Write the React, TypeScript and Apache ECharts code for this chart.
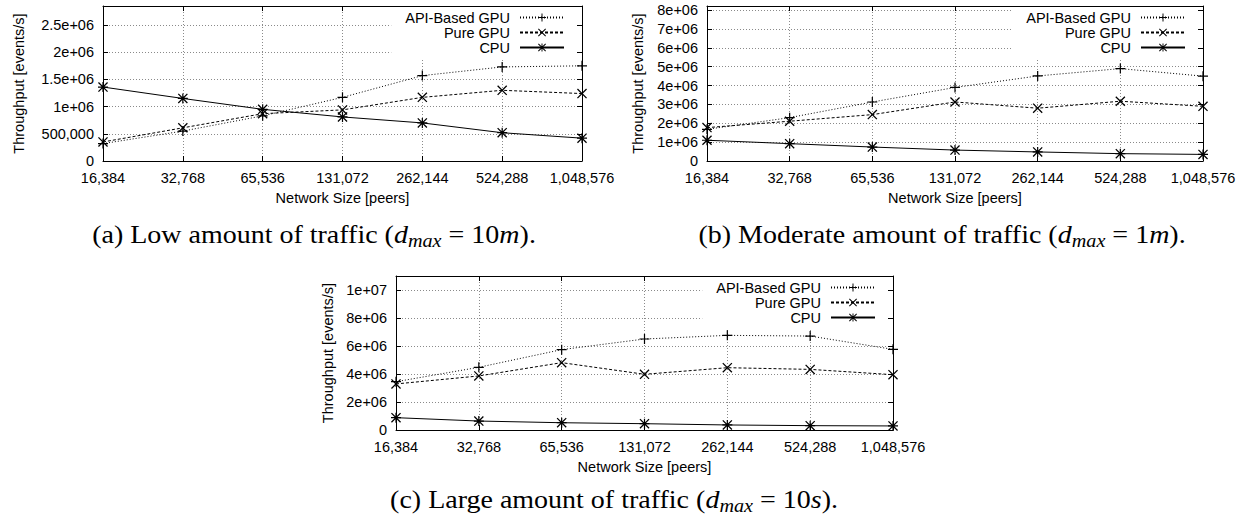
import React, { useEffect, useRef } from 'react';
import * as echarts from 'echarts';

// ---------- data ----------
const networkSizes = ['16,384', '32,768', '65,536', '131,072', '262,144', '524,288', '1,048,576'];
const seriesNames = ['API-Based GPU', 'Pure GPU', 'CPU'];

// (a) low traffic
const lowApi = [320000, 550000, 830000, 1170000, 1570000, 1730000, 1750000];
const lowPure = [350000, 610000, 870000, 940000, 1170000, 1300000, 1240000];
const lowCpu = [1360000, 1150000, 950000, 810000, 700000, 520000, 420000];

// (b) moderate traffic
const modApi = [1680000, 2300000, 3130000, 3900000, 4510000, 4900000, 4500000];
const modPure = [1770000, 2110000, 2460000, 3130000, 2800000, 3170000, 2900000];
const modCpu = [1100000, 920000, 740000, 580000, 480000, 390000, 350000];

// (c) large traffic
const largeApi = [3450000, 4480000, 5740000, 6500000, 6760000, 6710000, 5760000];
const largePure = [3290000, 3860000, 4810000, 3980000, 4450000, 4330000, 3950000];
const largeCpu = [880000, 640000, 520000, 450000, 360000, 310000, 290000];

const yTicksLow = ['0', '500,000', '1e+06', '1.5e+06', '2e+06', '2.5e+06'];
const yTicksMod = ['0', '1e+06', '2e+06', '3e+06', '4e+06', '5e+06', '6e+06', '7e+06', '8e+06'];
const yTicksLarge = ['0', '2e+06', '4e+06', '6e+06', '8e+06', '1e+07'];

const xName = 'Network Size [peers]';
const yName = 'Throughput [events/s]';

// ---------- layout / style ----------
const SANS = 'Liberation Sans';
const SERIF = 'Liberation Serif';
const FS = 14.5;

const PLUS = 'path://M4.4,0h1.2v10h-1.2zM0,4.4h10v1.2h-10z';
const CROSS = 'path://M0,0.9L0.9,0L10,9.1L9.1,10ZM9.1,0L10,0.9L0.9,10L0,9.1Z';
const STAR = 'path://M4.4,0h1.2v10h-1.2zM0,4.4h10v1.2h-10zM0,0.9L0.9,0L10,9.1L9.1,10ZM9.1,0L10,0.9L0.9,10L0,9.1Z';

const panels = [
  {
    grid: { left: 103, top: 6, width: 479, height: 155 },
    max: 2850000, interval: 500000, ticks: yTicksLow,
    data: [lowApi, lowPure, lowCpu], yNameGap: 77,
    legend: { right: 666, top: 7 },
  },
  {
    grid: { left: 707, top: 6, width: 496, height: 155 },
    max: 8220000, interval: 1000000, ticks: yTicksMod,
    data: [modApi, modPure, modCpu], yNameGap: 62,
    legend: { right: 45, top: 7 },
  },
  {
    grid: { left: 396, top: 276, width: 497, height: 154 },
    max: 11000000, interval: 2000000, ticks: yTicksLarge,
    data: [largeApi, largePure, largeCpu], yNameGap: 61,
    legend: { right: 355, top: 277 },
  },
];

const styles = [
  { symbol: PLUS, dash: [1, 2] },
  { symbol: CROSS, dash: [3, 2] },
  { symbol: STAR, dash: 'solid' as any },
];

const captions = [
  { x: 314, y: 235, label: '(a) Low amount of traffic (', val: ' = 10', unit: 'm' },
  { x: 942, y: 235, label: '(b) Moderate amount of traffic (', val: ' = 1', unit: 'm' },
  { x: 614, y: 500, label: '(c) Large amount of traffic (', val: ' = 10', unit: 's' },
];

function buildOption() {
  const grid: any[] = [];
  const xAxis: any[] = [];
  const yAxis: any[] = [];
  const series: any[] = [];
  const legend: any[] = [];
  const gridLine = { show: true, lineStyle: { color: '#8a8a8a', width: 1, type: [1, 2] } };
  const axisLine = { show: true, onZero: false, lineStyle: { color: '#000', width: 1 } };
  const tick = { show: true, inside: true, length: 5, lineStyle: { color: '#000' } };

  panels.forEach((p, pi) => {
    grid.push({ ...p.grid, show: false });
    xAxis.push({
      type: 'category', gridIndex: pi, data: networkSizes, boundaryGap: false,
      axisLine, axisTick: { ...tick, interval: 0 }, splitLine: { ...gridLine, interval: 0 },
      axisLabel: { color: '#000', fontFamily: SANS, fontSize: FS, margin: 9, interval: 0, hideOverlap: false },
      name: xName, nameLocation: 'middle', nameGap: 29,
      nameTextStyle: { color: '#000', fontFamily: SANS, fontSize: FS },
    });
    xAxis.push({
      type: 'category', gridIndex: pi, data: networkSizes, boundaryGap: false, position: 'top',
      axisLine, axisTick: { ...tick, interval: 0 }, splitLine: { show: false }, axisLabel: { show: false },
    });
    const fmt = (v: number) => {
      const k = Math.round(v / p.interval);
      if (Math.abs(v - k * p.interval) > 1 || k >= p.ticks.length) return '';
      return p.ticks[k];
    };
    yAxis.push({
      type: 'value', gridIndex: pi, min: 0, max: p.max, interval: p.interval,
      axisLine, axisTick: tick, splitLine: gridLine,
      axisLabel: { color: '#000', fontFamily: SANS, fontSize: FS, margin: 9, formatter: fmt, showMaxLabel: false },
      name: yName, nameLocation: 'middle', nameGap: p.yNameGap,
      nameTextStyle: { color: '#000', fontFamily: SANS, fontSize: FS },
    });
    yAxis.push({
      type: 'value', gridIndex: pi, min: 0, max: p.max, interval: p.interval, position: 'right',
      axisLine, axisTick: tick, splitLine: { show: false }, axisLabel: { show: false },
    });
    p.data.forEach((d, si) => {
      series.push({
        type: 'line', name: seriesNames[si], xAxisIndex: pi * 2, yAxisIndex: pi * 2, data: d,
        symbol: styles[si].symbol, symbolSize: 10, showSymbol: true,
        itemStyle: { color: '#000' },
        lineStyle: { color: '#000', width: 1, type: styles[si].dash },
        emphasis: { disabled: true }, silent: true, z: 3,
      });
    });
    legend.push({
      ...p.legend, orient: 'vertical', align: 'right', data: seriesNames,
      itemWidth: 44, itemHeight: 10, itemGap: 0, padding: [3, 12, 5, 14],
      backgroundColor: '#fff', selectedMode: false,
      textStyle: { color: '#000', fontFamily: SANS, fontSize: FS, padding: [0, 5, 0, 0] },
    });
  });

  const graphic = captions.map((c) => ({
    type: 'text', x: c.x, y: c.y, scaleX: 1.12,
    style: {
      text: `{n|${c.label}}{i|d}{s|max}{n|${c.val}}{i|${c.unit}}{n|).}`,
      align: 'center', verticalAlign: 'middle', fill: '#000',
      fontFamily: SERIF, fontSize: 25,
      rich: {
        n: { fontFamily: SERIF, fontSize: 25, lineHeight: 30, color: '#000' },
        i: { fontFamily: SERIF, fontSize: 25, lineHeight: 30, fontStyle: 'italic', color: '#000' },
        s: { fontFamily: SERIF, fontSize: 18, lineHeight: 18, fontStyle: 'italic', verticalAlign: 'bottom', color: '#000' },
      },
    },
  }));

  return { animation: false, backgroundColor: '#fff', grid, xAxis, yAxis, series, legend, graphic };
}

export default function App() {
  const ref = useRef<HTMLDivElement>(null);
  useEffect(() => {
    if (!ref.current) return;
    const chart = echarts.init(ref.current, undefined, { renderer: 'svg' });
    chart.setOption(buildOption() as any);
    return () => chart.dispose();
  }, []);
  return <div ref={ref} style={{ position: 'absolute', left: 0, top: 0, width: 1243, height: 523, background: '#fff' }} />;
}
